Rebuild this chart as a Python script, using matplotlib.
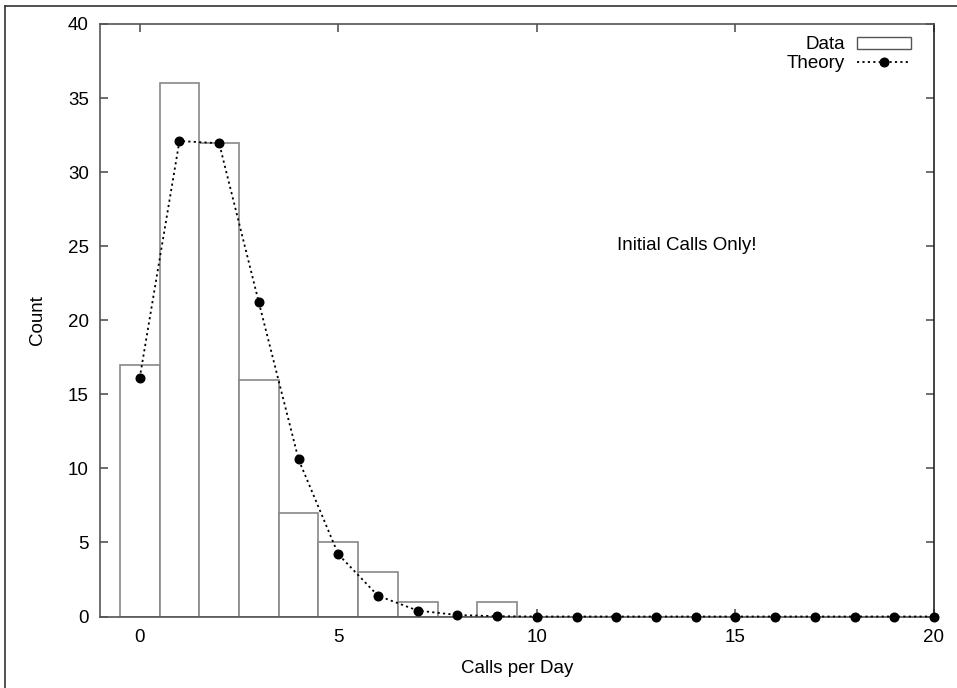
import matplotlib
matplotlib.use("Agg")
import matplotlib.pyplot as plt
from matplotlib.patches import Rectangle
from matplotlib.lines import Line2D

plt.rcParams["font.family"] = ["Liberation Sans", "DejaVu Sans"]
plt.rcParams["font.size"] = 13.5

# observed histogram: number of days with k initial calls
data_calls = [0, 1, 2, 3, 4, 5, 6, 7, 8, 9]
data_count = [17, 36, 32, 16, 7, 5, 3, 1, 0, 1]

# expected counts
theory_calls = list(range(0, 21))
theory_count = [16.1, 32.1, 31.95, 21.2, 10.6, 4.2, 1.4, 0.4, 0.1, 0.02,
                0.0, 0.0, 0.0, 0.0, 0.0, 0.0, 0.0, 0.0, 0.0, 0.0, 0.0]

BAR_EDGE = "#888888"
AXIS_COLOR = "#555555"
DOTS = (0, (1.2, 1.8))

fig = plt.figure(figsize=(9.57, 6.88), dpi=100)
ax = fig.add_axes([100 / 957, 1 - 616.5 / 688, 834 / 957, 592.5 / 688])

ax.bar(data_calls, data_count, width=1.0, facecolor="white",
       edgecolor=BAR_EDGE, linewidth=1.2, zorder=2)
ax.plot(theory_calls, theory_count, color="black", linestyle=DOTS,
        linewidth=1.3, marker="o", markersize=6.2, zorder=3, clip_on=False)

ax.set_xlim(-1, 20)
ax.set_ylim(0, 40)
ax.set_xticks([0, 5, 10, 15, 20])
ax.set_yticks(range(0, 41, 5))
ax.tick_params(direction="in", length=6, width=1.2, color=AXIS_COLOR,
               top=True, right=True, pad=8)
ax.tick_params(axis="x", pad=9)
for side, spine in ax.spines.items():
    spine.set_linewidth(1.2)
    spine.set_color("#222222" if side == "right" else AXIS_COLOR)

ax.set_xlabel("Calls per Day", labelpad=10)
ax.set_ylabel("Count", labelpad=16)

ax.text(0.704, 0.627, "Initial Calls Only!", transform=ax.transAxes,
        ha="center", va="center")

handles = [
    Rectangle((0, 0), 1, 1, facecolor="white", edgecolor="#555555", linewidth=1.0),
    Line2D([], [], color="black", linestyle=DOTS, linewidth=1.3,
           marker="o", markersize=6.2),
]
ax.legend(handles, ["Data", "Theory"], loc="upper right",
          bbox_to_anchor=(0.984, 0.995), frameon=False,
          markerfirst=False, handlelength=2.9, handleheight=0.6,
          handletextpad=0.65, labelspacing=0.1, borderaxespad=0.2,
          borderpad=0.3)

# frame around the page (left and top edges only show)
fig.add_artist(Line2D([5 / 957, 5 / 957], [0, 1 - 6 / 688],
                      transform=fig.transFigure, color="#333333", linewidth=1.2))
fig.add_artist(Line2D([5 / 957, 1], [1 - 6 / 688, 1 - 6 / 688],
                      transform=fig.transFigure, color="#333333", linewidth=1.2))

fig.savefig("out.png", dpi=100, facecolor="white")
